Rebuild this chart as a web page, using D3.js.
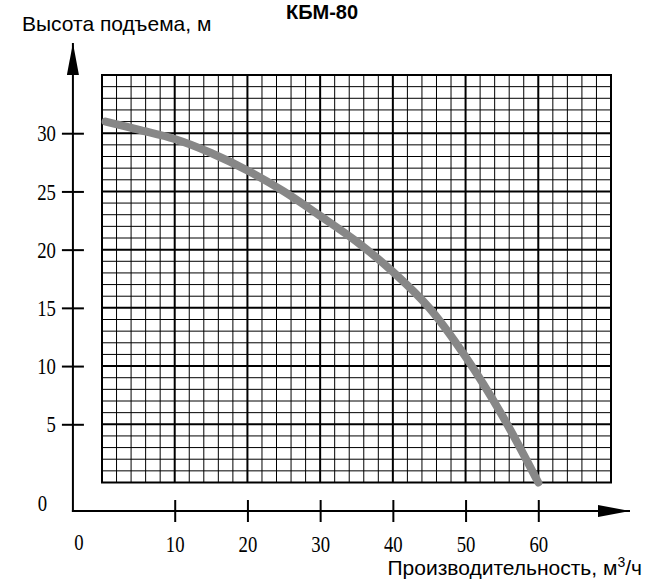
<!DOCTYPE html>
<html>
<head>
<meta charset="utf-8">
<script src="https://cdn.jsdelivr.net/npm/d3@7"></script>
<style>
  body { margin: 0; background: #fff; }
  text { fill: #000; }
</style>
</head>
<body>
<div id="chart"></div>
<script>
// chart data
const flowValues = [0.5, 5, 10, 15, 20, 25, 30, 35, 40, 45, 50, 55, 60];
const headValues = [31, 30.3, 29.5, 28.3, 26.8, 25.0, 22.9, 20.7, 18.1, 15, 10.8, 5.8, 0];
const xTicks = [10, 20, 30, 40, 50, 60];
const yTicks = [5, 10, 15, 20, 25, 30];

const width = 645, height = 580;
const serif = "Liberation Serif, Times New Roman, serif";
const sans = "Liberation Sans, Arial, sans-serif";
const squeeze = 0.78; // tick digits are narrow in the original

let svg = d3.select("#chart")
    .append("svg")
    .attr("width", width)
    .attr("height", height);

let x = d3.scaleLinear().domain([0, 70]).range([102, 611]);
let y = d3.scaleLinear().domain([0, 35]).range([482.5, 75]);

// axis origin sits outside the grid
const axisX = x(-4), axisY = y(-2.45);

// grid: minor lines
let grid = svg.append("g");
grid.selectAll("line.vminor")
    .data(d3.range(0, 71, 2).filter(d => d % 10 != 0))
    .enter().append("line")
    .attr("x1", d => x(d)).attr("x2", d => x(d))
    .attr("y1", y(0)).attr("y2", y(35))
    .attr("stroke", "#000").attr("stroke-width", 1);
grid.selectAll("line.hminor")
    .data(d3.range(0, 36, 1).filter(d => d % 5 != 0))
    .enter().append("line")
    .attr("y1", d => y(d)).attr("y2", d => y(d))
    .attr("x1", x(0)).attr("x2", x(70))
    .attr("stroke", "#000").attr("stroke-width", 1);
// major lines
grid.selectAll("line.vmajor")
    .data(d3.range(0, 71, 10))
    .enter().append("line")
    .attr("x1", d => x(d)).attr("x2", d => x(d))
    .attr("y1", y(0)).attr("y2", y(35))
    .attr("stroke", "#000").attr("stroke-width", 2);
grid.selectAll("line.hmajor")
    .data(d3.range(0, 36, 5))
    .enter().append("line")
    .attr("y1", d => y(d)).attr("y2", d => y(d))
    .attr("x1", x(0) - 1).attr("x2", x(70) + 1)
    .attr("stroke", "#000").attr("stroke-width", 2);

// axes lines with arrows
svg.append("defs").append("marker")
    .attr("id", "arrow")
    .attr("viewBox", "0 0 32 12")
    .attr("refX", 32).attr("refY", 6)
    .attr("markerWidth", 32).attr("markerHeight", 12)
    .attr("markerUnits", "userSpaceOnUse")
    .attr("orient", "auto")
    .append("path")
    .attr("d", "M0,0 L32,6 L0,12 Z")
    .attr("fill", "#000");

svg.append("line")
    .attr("x1", axisX).attr("x2", axisX)
    .attr("y1", axisY + 1).attr("y2", 43)
    .attr("stroke", "#000").attr("stroke-width", 2)
    .attr("marker-end", "url(#arrow)");
svg.append("line")
    .attr("x1", axisX - 1).attr("x2", 630)
    .attr("y1", axisY).attr("y2", axisY)
    .attr("stroke", "#000").attr("stroke-width", 2)
    .attr("marker-end", "url(#arrow)");

// y ticks
let yAxis = svg.append("g")
    .attr("transform", `translate(${axisX}, 0)`)
    .call(d3.axisLeft(y).tickValues(yTicks).tickSize(11).tickSizeOuter(0).tickPadding(6));
yAxis.select(".domain").remove();
yAxis.selectAll(".tick line").attr("x2", -11).attr("x1", 11).attr("stroke-width", 2);
yAxis.selectAll(".tick text")
    .attr("font-family", serif)
    .attr("font-size", 24)
    .attr("x", -17 / squeeze)
    .attr("transform", `scale(${squeeze},1)`);

// x ticks
let xAxis = svg.append("g")
    .attr("transform", `translate(0, ${axisY})`)
    .call(d3.axisBottom(x).tickValues(xTicks).tickSize(11).tickSizeOuter(0).tickPadding(13));
xAxis.select(".domain").remove();
xAxis.selectAll(".tick line").attr("y1", -11).attr("y2", 11).attr("stroke-width", 2);
xAxis.selectAll(".tick text")
    .attr("font-family", serif)
    .attr("font-size", 24)
    .attr("transform", `scale(${squeeze},1)`);

// origin labels
svg.append("text")
    .attr("transform", `translate(42.5, 511) scale(${squeeze},1)`)
    .attr("text-anchor", "middle")
    .attr("font-family", serif)
    .attr("font-size", 24)
    .text("0");
svg.append("text")
    .attr("transform", `translate(79, 550) scale(${squeeze},1)`)
    .attr("text-anchor", "middle")
    .attr("font-family", serif)
    .attr("font-size", 24)
    .text("0");

// pump curve
let data = flowValues.map((q, i) => ({q: q, h: headValues[i]}));
let line = d3.line()
    .x(d => x(d.q))
    .y(d => y(d.h))
    .curve(d3.curveCatmullRom);
svg.append("path")
    .datum(data)
    .attr("d", line)
    .attr("fill", "none")
    .attr("stroke", "#878787")
    .attr("stroke-width", 8)
    .attr("stroke-linecap", "round");

// titles
svg.append("text")
    .attr("x", 322).attr("y", 19)
    .attr("text-anchor", "middle")
    .attr("font-family", sans)
    .attr("font-weight", "bold")
    .attr("font-size", 20)
    .text("КБМ-80");

svg.append("text")
    .attr("x", 22).attr("y", 31)
    .attr("font-family", sans)
    .attr("font-size", 21)
    .text("Высота подъема, м");

let xl = svg.append("text")
    .attr("x", 642).attr("y", 575)
    .attr("text-anchor", "end")
    .attr("font-family", sans)
    .attr("font-size", 21);
xl.append("tspan").text("Производительность, м");
xl.append("tspan").attr("dy", -8).attr("font-size", 14).text("3");
xl.append("tspan").attr("dy", 8).text("/ч");
</script>
</body>
</html>
